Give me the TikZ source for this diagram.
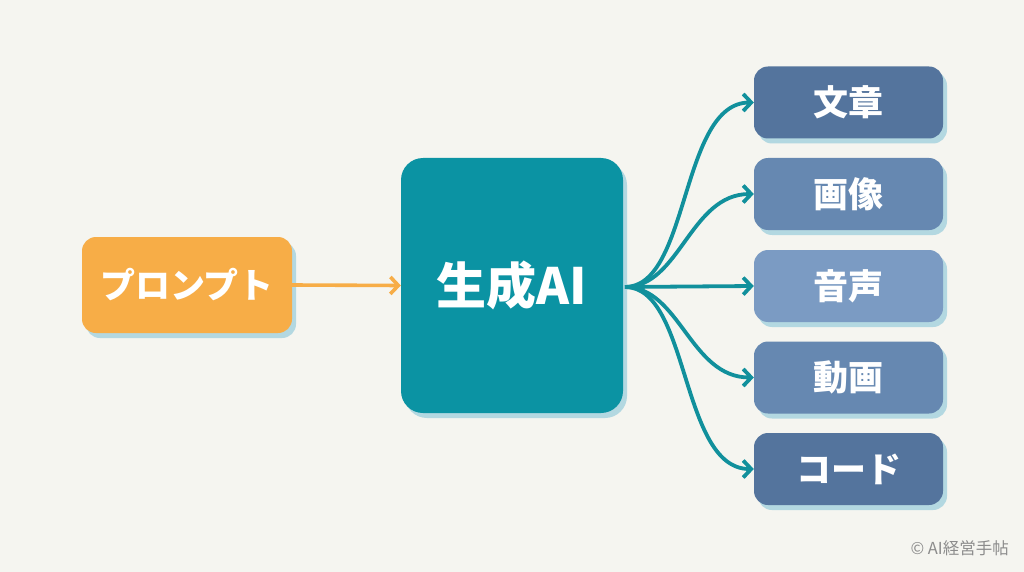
\documentclass[tikz,border=0pt]{standalone}
\usepackage{fontspec}
\setmainfont{Noto Sans CJK JP}
\usetikzlibrary{arrows.meta,shadows}
\definecolor{bgc}{HTML}{F5F5F0}
\definecolor{orangec}{HTML}{F7AD47}
\definecolor{tealc}{HTML}{0B93A3}
\definecolor{arrowc}{HTML}{11909C}
\definecolor{shadowc}{HTML}{B3D8E1}
\definecolor{blueA}{HTML}{54749D}
\definecolor{blueB}{HTML}{6688B1}
\definecolor{blueC}{HTML}{7B9BC3}
\definecolor{grayc}{HTML}{8C8C8C}
\tikzset{
  box/.style={rounded corners=14pt, inner sep=0pt, text=white, font=\bfseries,
    drop shadow={shadow xshift=4pt, shadow yshift=-5pt, fill=shadowc, opacity=1}},
  outbox/.style={box, minimum width=189pt, minimum height=72pt, font=\bfseries\fontsize{35}{40}\selectfont},
  fanarrow/.style={draw=arrowc, line width=3.8pt, -{Straight Barb[length=8pt,width=17pt,line width=3.8pt]}},
}
\begin{document}
\begin{tikzpicture}[x=1pt,y=-1pt]
\fill[bgc] (0,0) rectangle (1024,572);
\useasboundingbox (0,0) rectangle (1024,572);

\node[box, fill=orangec, minimum width=210pt, minimum height=96pt,
  font=\bfseries\fontsize{35}{40}\selectfont] (prompt) at (187,285) {プロンプト};
\node[box, fill=tealc, rounded corners=22pt, minimum width=222pt, minimum height=255pt,
  font=\bfseries\fontsize{50}{56}\selectfont] (gen) at (512,285.5) {生成AI};

\node[outbox, fill=blueA] (t1) at (848.5,102.5) {文章};
\node[outbox, fill=blueB] (t2) at (848.5,194) {画像};
\node[outbox, fill=blueC] (t3) at (848.5,286) {音声};
\node[outbox, fill=blueB] (t4) at (848.5,377.5) {動画};
\node[outbox, fill=blueA] (t5) at (848.5,469) {コード};

\coordinate (src) at (625,287);

\draw[draw=orangec, line width=3.6pt, -{Straight Barb[length=8pt,width=17pt,line width=3.6pt]}]
  (prompt.east) -- (gen.west);

\draw[fanarrow] (src) .. controls (690,287) and (680,102.5) .. (t1.west);
\draw[fanarrow] (src) .. controls (680,287) and (690,194) .. (t2.west);
\draw[fanarrow] (src) -- (t3.west);
\draw[fanarrow] (src) .. controls (680,287) and (690,377.5) .. (t4.west);
\draw[fanarrow] (src) .. controls (690,287) and (680,469) .. (t5.west);

\node[anchor=east, text=grayc, font=\fontsize{16.5}{19}\selectfont, inner sep=0pt] (copy) at (1009,548) {© AI経営手帖};
\end{tikzpicture}
\end{document}
